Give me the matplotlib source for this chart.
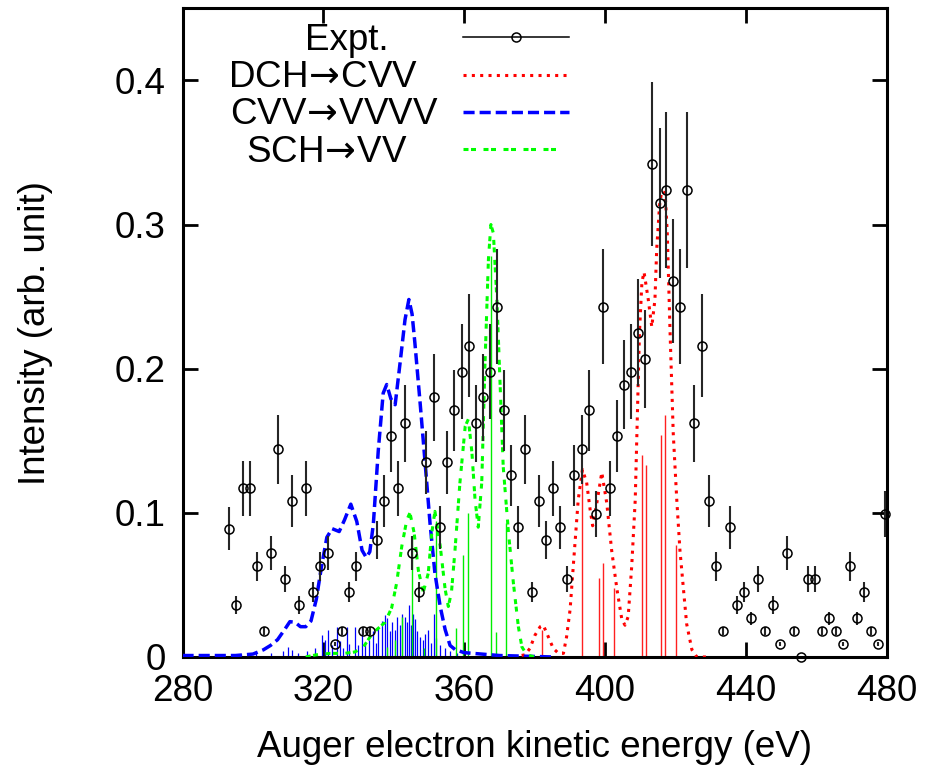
import matplotlib
matplotlib.use('Agg')
import matplotlib.pyplot as plt

plt.rcParams['font.family'] = ['Liberation Sans', 'DejaVu Sans']
plt.rcParams['mathtext.fontset'] = 'dejavusans'
plt.rcParams['lines.scale_dashes'] = False
FS = 26.5

# experimental Auger spectrum (eV, intensity, error)
expt_e = [293.1, 295.1, 297.1, 299.1, 301.1, 303.1, 305.1, 307.1, 309.1, 311.1,
          313.2, 315.2, 317.2, 319.1, 321.2, 323.2, 325.2, 327.2, 329.2, 331.2,
          333.2, 335.3, 337.2, 339.2, 341.2, 343.2, 345.2, 347.2, 349.3, 351.3,
          353.2, 355.2, 357.2, 359.3, 361.3, 363.3, 365.3, 367.3, 369.3, 371.3,
          373.2, 375.2, 377.4, 379.3, 381.3, 383.3, 385.3, 387.3, 389.3, 391.3,
          393.4, 395.4, 397.5, 399.5, 401.4, 403.4, 405.4, 407.4, 409.5, 411.5,
          413.5, 415.5, 417.4, 419.4, 421.4, 423.4, 425.4, 427.5, 429.6, 431.6,
          433.6, 435.5, 437.5, 439.6, 441.5, 443.6, 445.6, 447.6, 449.6, 451.6,
          453.6, 455.6, 457.6, 459.6, 461.6, 463.6, 465.6, 467.6, 469.6, 471.6,
          473.6, 475.6, 477.6, 479.6]
expt_i = [0.089, 0.036, 0.117, 0.117, 0.063, 0.018, 0.072, 0.144, 0.054, 0.108,
          0.036, 0.117, 0.045, 0.063, 0.072, 0.009, 0.018, 0.045, 0.063, 0.018,
          0.018, 0.081, 0.108, 0.153, 0.117, 0.162, 0.072, 0.045, 0.135, 0.180,
          0.090, 0.135, 0.171, 0.198, 0.216, 0.162, 0.180, 0.198, 0.243, 0.171,
          0.126, 0.090, 0.144, 0.045, 0.108, 0.081, 0.117, 0.090, 0.054, 0.126,
          0.144, 0.171, 0.099, 0.243, 0.117, 0.153, 0.189, 0.198, 0.225, 0.207,
          0.342, 0.315, 0.324, 0.261, 0.243, 0.324, 0.162, 0.216, 0.108, 0.063,
          0.018, 0.090, 0.036, 0.045, 0.027, 0.054, 0.018, 0.036, 0.009, 0.072,
          0.018, 0.000, 0.054, 0.054, 0.018, 0.027, 0.018, 0.009, 0.063, 0.027,
          0.045, 0.018, 0.009, 0.099]
expt_err = [0.015, 0.006, 0.019, 0.019, 0.010, 0.003, 0.012, 0.024, 0.009, 0.018,
            0.006, 0.019, 0.007, 0.010, 0.012, 0.0015, 0.003, 0.007, 0.010, 0.003,
            0.003, 0.013, 0.018, 0.025, 0.019, 0.027, 0.012, 0.007, 0.022, 0.030,
            0.015, 0.022, 0.028, 0.033, 0.036, 0.027, 0.030, 0.033, 0.040, 0.028,
            0.021, 0.015, 0.024, 0.007, 0.018, 0.013, 0.019, 0.015, 0.009, 0.021,
            0.024, 0.028, 0.016, 0.040, 0.019, 0.025, 0.031, 0.033, 0.037, 0.034,
            0.057, 0.052, 0.054, 0.043, 0.040, 0.054, 0.027, 0.036, 0.018, 0.010,
            0.003, 0.015, 0.006, 0.007, 0.0045, 0.009, 0.003, 0.006, 0.0015, 0.012,
            0.003, 0.000, 0.009, 0.009, 0.003, 0.0045, 0.003, 0.0015, 0.010, 0.0045,
            0.007, 0.003, 0.0015, 0.016]

# broadened theoretical spectra
dch_e = [374.0, 377.3, 378.7, 380.1, 381.6, 382.5, 383.9, 385.3, 386.8, 388.2,
         389.1, 390.1, 391.0, 392.4, 393.6, 394.8, 395.8, 396.5, 397.7, 399.1,
         400.5, 401.9, 403.4, 404.8, 405.7, 406.6, 407.6, 408.6, 409.2, 409.8,
         410.5, 411.1, 412.3, 413.3, 414.2, 414.7, 415.5, 416.1, 417.1, 417.7,
         418.5, 419.4, 420.4, 421.3, 422.3, 423.2, 424.7, 426.1, 430.0]
dch_i = [0.000, 0.0015, 0.006, 0.015, 0.021, 0.022, 0.014, 0.006, 0.0025, 0.0025,
         0.014, 0.033, 0.063, 0.109, 0.130, 0.121, 0.102, 0.091, 0.107, 0.128,
         0.107, 0.074, 0.047, 0.026, 0.022, 0.028, 0.063, 0.109, 0.167, 0.225,
         0.260, 0.267, 0.248, 0.229, 0.248, 0.283, 0.313, 0.323, 0.322, 0.294,
         0.225, 0.155, 0.109, 0.074, 0.047, 0.023, 0.005, 0.000, 0.000]

cvv_e = [280.0, 290.0, 295.0, 300.0, 303.0, 305.0, 307.0, 309.0, 310.5, 312.0,
         313.5, 315.0, 316.5, 318.0, 319.5, 321.0, 322.5, 324.5, 326.0, 327.8,
         329.5, 331.0, 332.2, 333.2, 334.2, 335.6, 337.0, 338.0, 339.2, 340.4,
         341.8, 343.2, 344.3, 345.2, 346.0, 347.5, 348.9, 350.3, 351.7, 353.2,
         354.6, 356.0, 357.5, 360.0, 365.0, 370.0, 378.0, 385.0]
cvv_i = [0.001, 0.001, 0.001, 0.002, 0.005, 0.008, 0.012, 0.019, 0.0245, 0.024,
         0.021, 0.021, 0.025, 0.040, 0.063, 0.083, 0.089, 0.087, 0.095, 0.106,
         0.094, 0.074, 0.069, 0.073, 0.092, 0.143, 0.183, 0.189, 0.179, 0.175,
         0.204, 0.234, 0.248, 0.238, 0.218, 0.176, 0.135, 0.093, 0.058, 0.035,
         0.019, 0.008, 0.005, 0.003, 0.002, 0.001, 0.0005, 0.0]

sch_e = [315.0, 318.0, 322.0, 326.0, 329.0, 331.4, 333.3, 335.2, 337.5, 339.4,
         340.8, 342.3, 343.7, 344.6, 345.8, 347.0, 348.4, 349.8, 350.8, 351.7,
         353.2, 354.6, 355.5, 356.4, 357.4, 358.8, 360.3, 361.2, 362.2, 363.1,
         364.0, 365.0, 365.9, 366.9, 367.6, 368.3, 369.3, 370.2, 371.1, 372.6,
         374.0, 375.4, 376.4, 377.8, 380.0]
sch_i = [0.000, 0.0015, 0.0025, 0.0025, 0.0035, 0.007, 0.014, 0.019, 0.024, 0.034,
         0.051, 0.077, 0.095, 0.100, 0.086, 0.060, 0.045, 0.058, 0.086, 0.101,
         0.077, 0.047, 0.035, 0.045, 0.074, 0.121, 0.160, 0.165, 0.142, 0.109,
         0.090, 0.121, 0.202, 0.276, 0.300, 0.294, 0.248, 0.190, 0.132, 0.086,
         0.051, 0.021, 0.007, 0.0015, 0.000]

# line (stick) spectra
dch_stick_e = [382.2, 393.5, 398.4, 399.4, 402.5, 410.5, 411.6, 415.8, 417.0, 420.1]
dch_stick_h = [0.019, 0.131, 0.055, 0.065, 0.048, 0.140, 0.133, 0.154, 0.168, 0.078]

cvv_stick_e = [296.5, 301.0, 305.0, 308.5, 310.1, 311.0, 312.9, 315.3, 317.5, 319.5,
               320.5, 321.4, 322.4, 323.8, 324.7, 325.5, 326.6, 327.4, 329.0, 329.8,
               330.9, 331.8, 333.0, 334.2, 335.0, 335.6, 336.6, 337.5, 338.2, 338.9,
               339.6, 340.3, 341.0, 341.7, 342.4, 343.2, 343.8, 344.3, 344.9, 345.4,
               346.0, 346.7, 347.4, 348.2, 349.0, 349.8, 350.5, 351.3, 352.0, 353.0,
               354.5, 356.0, 358.0]
cvv_stick_h = [0.002, 0.003, 0.003, 0.004, 0.007, 0.005, 0.003, 0.004, 0.006, 0.015,
               0.012, 0.019, 0.008, 0.021, 0.011, 0.006, 0.021, 0.009, 0.021, 0.008,
               0.020, 0.010, 0.012, 0.018, 0.010, 0.021, 0.025, 0.029, 0.027, 0.018,
               0.024, 0.019, 0.028, 0.022, 0.030, 0.028, 0.024, 0.036, 0.022, 0.030,
               0.026, 0.018, 0.014, 0.012, 0.016, 0.019, 0.010, 0.030, 0.013, 0.008,
               0.006, 0.004, 0.003]

sch_stick_e = [338.0, 340.3, 342.3, 345.3, 348.5, 351.9, 357.6, 359.7, 361.2, 367.5,
               369.0, 371.9]
sch_stick_h = [0.007, 0.012, 0.028, 0.084, 0.006, 0.094, 0.020, 0.071, 0.100, 0.278,
               0.017, 0.093]

fig = plt.figure(figsize=(9.27, 7.76), dpi=100)
ax = fig.add_axes([0.1969, 0.1534, 0.7595, 0.8359])

ax.errorbar(expt_e, expt_i, yerr=expt_err, fmt='o', color='black', ecolor='0.15',
            elinewidth=1.5, capsize=0, ms=6.5, mfc='none', mec='black', mew=1.1,
            clip_on=False, zorder=4)

ax.plot(dch_e, dch_i, color='#ff0000', lw=2.2, dashes=(2.2, 3.8), zorder=3)
ax.plot(cvv_e, cvv_i, color='#0000ff', lw=2.5, dashes=(8.0, 3.6), zorder=3)
ax.plot(sch_e, sch_i, color='#00ff00', lw=2.2, dashes=(3.6, 1.8, 3.6, 5.4), zorder=3)

ax.vlines(dch_stick_e, 0, dch_stick_h, color='#ff2020', lw=1.0, zorder=2)
ax.vlines(cvv_stick_e, 0, cvv_stick_h, color='#0000ff', lw=0.9, zorder=2)
ax.vlines(sch_stick_e, 0, sch_stick_h, color='#00ee00', lw=1.0, zorder=2)

ax.set_xlim(280, 480)
ax.set_ylim(0, 0.45)
ax.set_xticks([280, 320, 360, 400, 440, 480])
ax.set_yticks([0, 0.1, 0.2, 0.3, 0.4])
ax.set_yticklabels(['0', '0.1', '0.2', '0.3', '0.4'])
ax.tick_params(direction='in', length=10.8, width=2, top=True, right=True,
               labelsize=FS, pad=12)
for s in ax.spines.values():
    s.set_linewidth(2.2)

ax.set_xlabel('Auger electron kinetic energy (eV)', fontsize=FS)
ax.set_ylabel('Intensity (arb. unit)', fontsize=FS)
ax.xaxis.set_label_coords(0.5, -0.112)
ax.yaxis.set_label_coords(-0.184, 0.5)

# key, drawn by hand in gnuplot fashion
arrow = '$\\!\\rightarrow\\!$'
tr = ax.transAxes
keys = [('Expt.', 0.233, 0.9357),
        ('DCH' + arrow + 'CVV', 0.200, 0.8793),
        ('CVV' + arrow + 'VVVV', 0.2156, 0.8212),
        ('SCH' + arrow + 'VV', 0.2053, 0.7635)]
for lab, xc, yb in keys:
    ax.text(xc, yb, lab, transform=tr, ha='center', va='baseline', fontsize=FS)
ax.plot([0.398, 0.549], [0.9553] * 2, color='black', lw=1.1, transform=tr)
ax.plot([0.4735], [0.9553], 'o', ms=6.5, mfc='none', mec='black', mew=1.1, transform=tr)
ax.plot([0.398, 0.549], [0.897] * 2, color='#ff0000', lw=2.2, dashes=(2.2, 3.8), transform=tr)
ax.plot([0.398, 0.549], [0.840] * 2, color='#0000ff', lw=2.5, dashes=(8.0, 3.6), transform=tr)
ax.plot([0.398, 0.535], [0.783] * 2, color='#00ff00', lw=2.2,
        dashes=(3.6, 1.8, 3.6, 5.4), transform=tr)

fig.savefig('out.png', dpi=100)
